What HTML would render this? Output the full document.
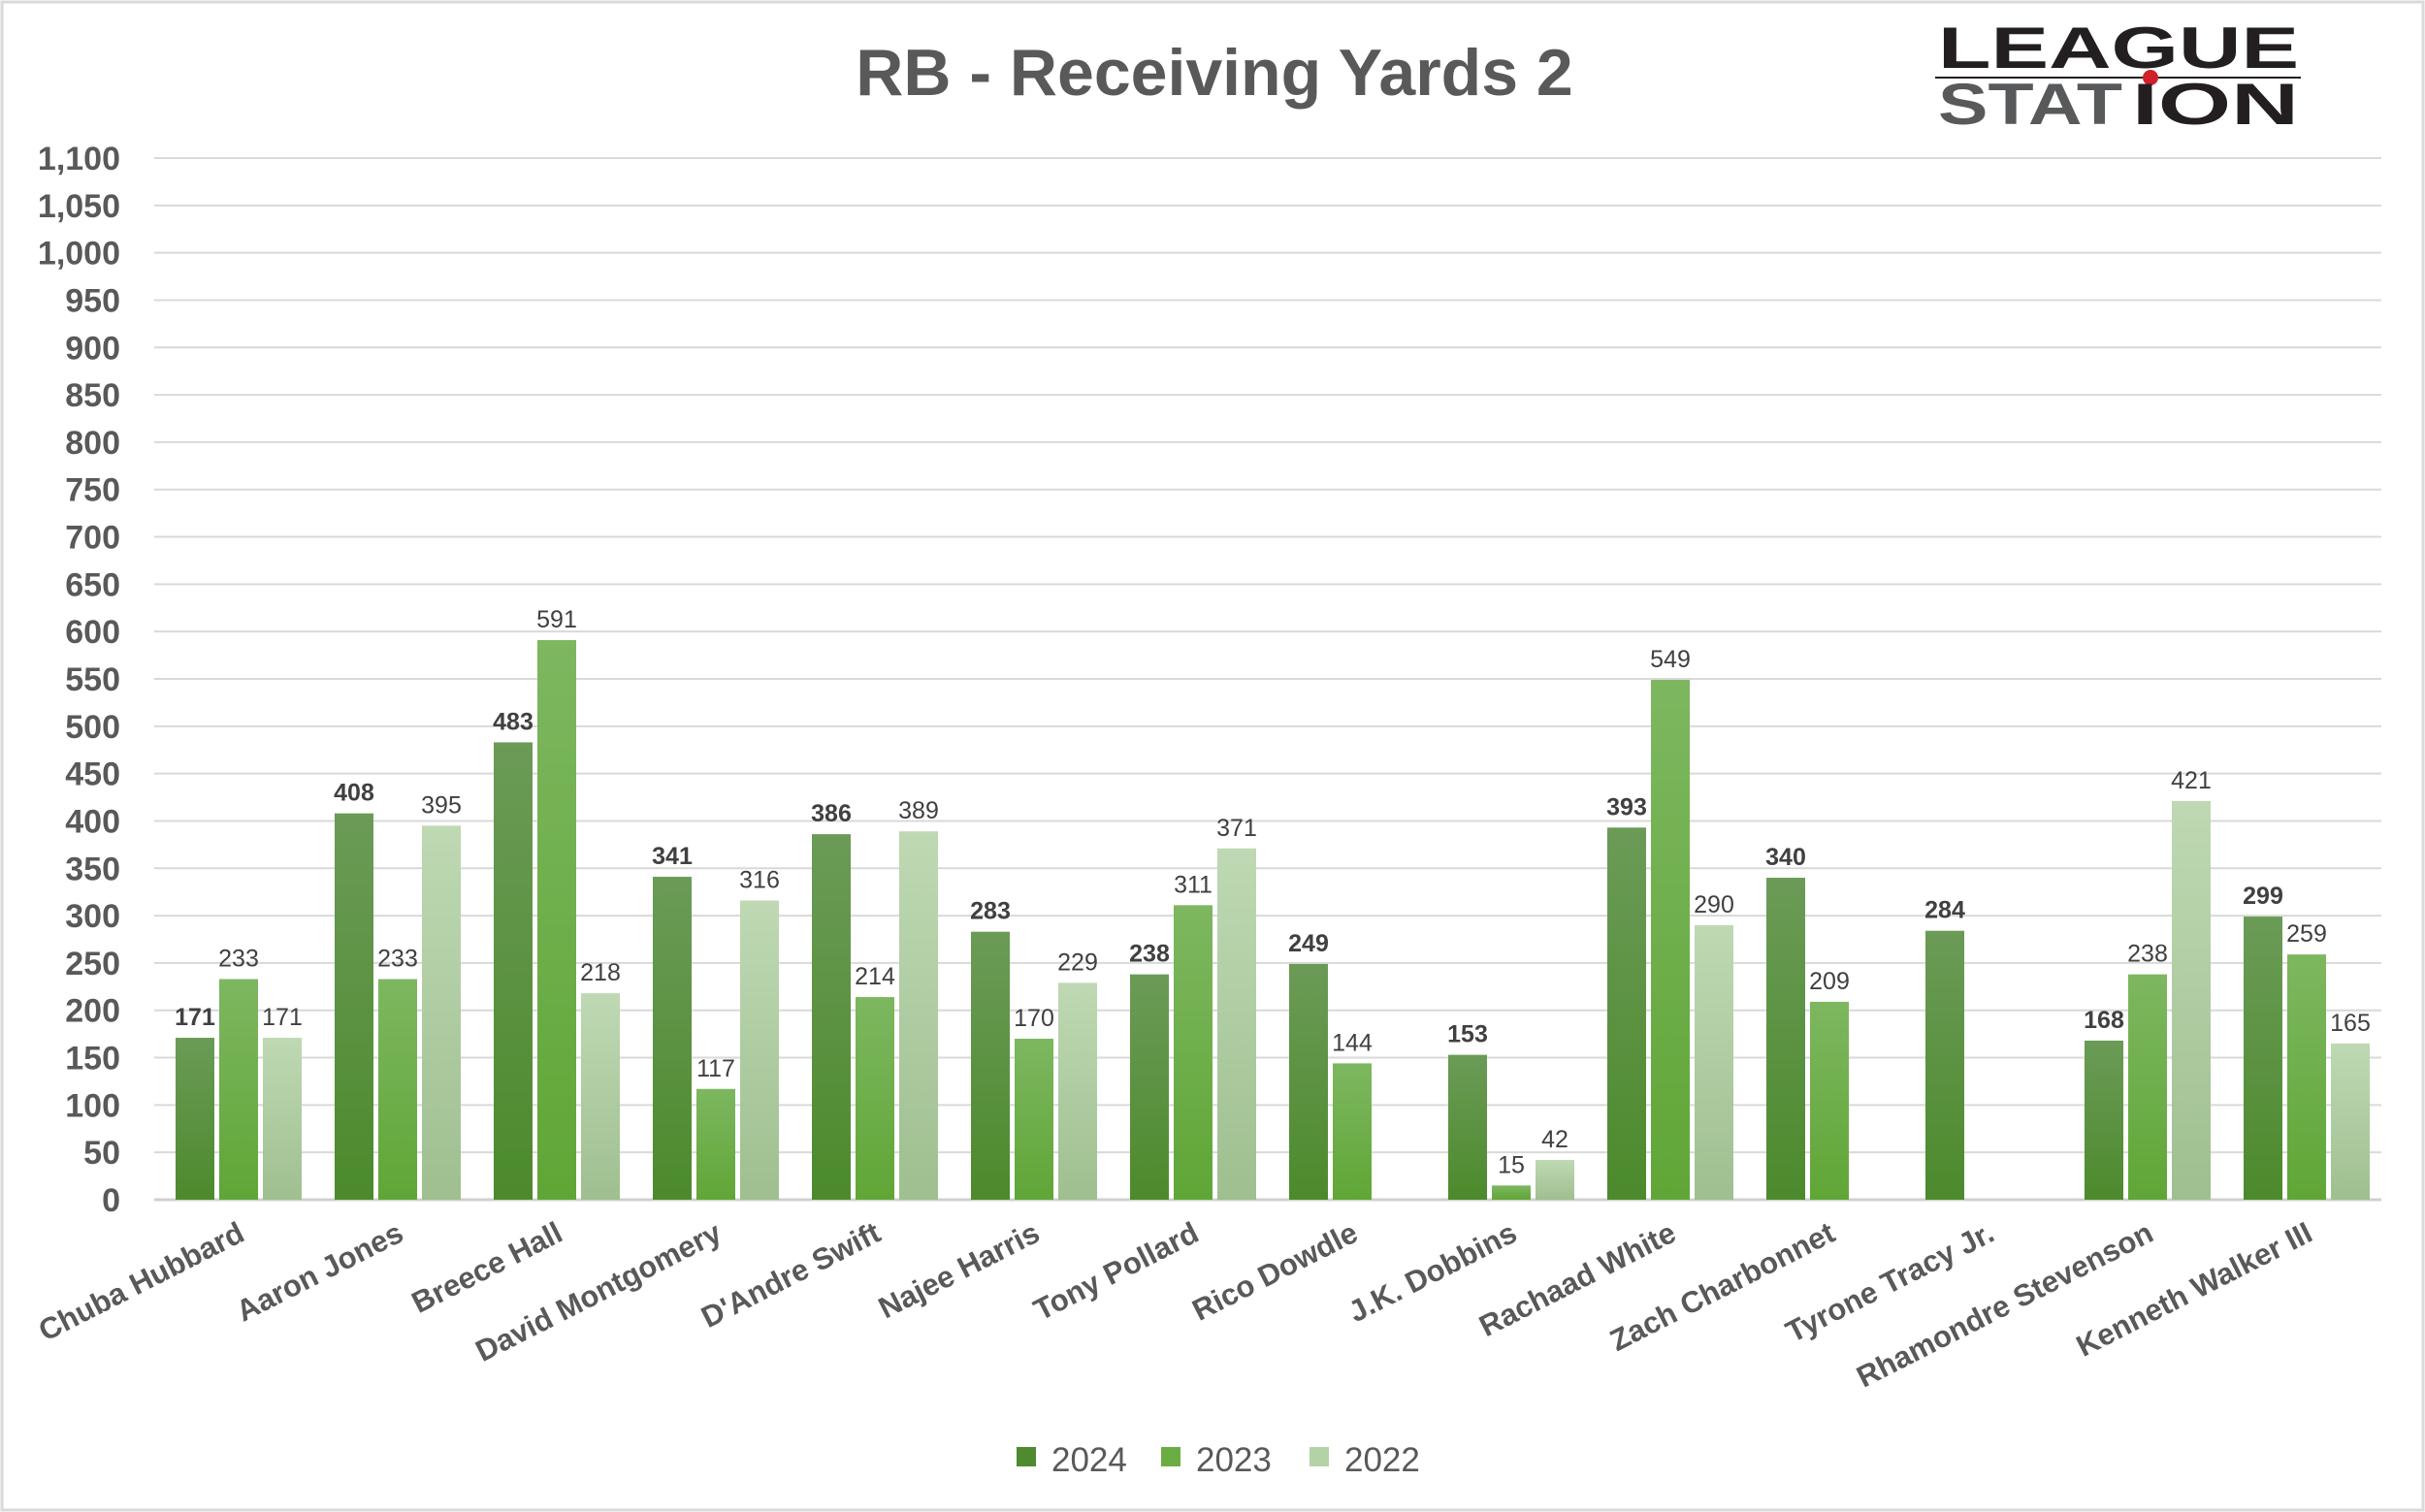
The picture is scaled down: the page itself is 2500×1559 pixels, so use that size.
<!DOCTYPE html>
<html><head><meta charset="utf-8"><style>
html,body{margin:0;padding:0;background:#fff;}
svg{display:block;font-family:"Liberation Sans",Calibri,sans-serif;}
</style></head><body>
<svg id="chart" width="2500" height="1559" viewBox="0 0 2500 1559" xmlns="http://www.w3.org/2000/svg">
<defs>
<linearGradient id="g24" x1="0" y1="0" x2="0" y2="1"><stop offset="0" stop-color="#6b9b57"/><stop offset="1" stop-color="#4c8a2c"/></linearGradient>
<linearGradient id="g23" x1="0" y1="0" x2="0" y2="1"><stop offset="0" stop-color="#7db760"/><stop offset="1" stop-color="#60a636"/></linearGradient>
<linearGradient id="g22" x1="0" y1="0" x2="0" y2="1"><stop offset="0" stop-color="#bed9b3"/><stop offset="1" stop-color="#9fbf90"/></linearGradient>
</defs>
<rect x="2" y="2" width="2496" height="1555" fill="#fff" stroke="#d9d9d9" stroke-width="3"/>
<text x="1252" y="98" text-anchor="middle" font-size="68" font-weight="bold" fill="#595959">RB - Receiving Yards 2</text>
<g>
<text x="1998" y="70" font-size="60" font-weight="bold" fill="#231f20" textLength="372" lengthAdjust="spacingAndGlyphs">LEAGUE</text>
<line x1="1995" y1="80" x2="2372" y2="80" stroke="#231f20" stroke-width="2"/>
<circle cx="2217" cy="80" r="8" fill="#d0202a"/>
<text x="1998" y="128" font-size="60" font-weight="bold" fill="#58595b" textLength="190" lengthAdjust="spacingAndGlyphs">STAT</text>
<text x="2198" y="128" font-size="60" font-weight="bold" fill="#231f20" textLength="172" lengthAdjust="spacingAndGlyphs">ION</text>
</g>
<g id="grid"></g><g id="bars"></g><g id="labels"></g><g id="xlabels"></g>
<g>
<rect x="1048" y="1492" width="20" height="20" fill="#4f8a30"/>
<text x="1084" y="1517" font-size="35" fill="#595959">2024</text>
<rect x="1197" y="1492" width="20" height="20" fill="#6aae43"/>
<text x="1233" y="1517" font-size="35" fill="#595959">2023</text>
<rect x="1350" y="1492" width="20" height="20" fill="#b3d2a6"/>
<text x="1386" y="1517" font-size="35" fill="#595959">2022</text>
</g>
</svg>
<script>
const categories=["Chuba Hubbard","Aaron Jones","Breece Hall","David Montgomery","D'Andre Swift","Najee Harris","Tony Pollard","Rico Dowdle","J.K. Dobbins","Rachaad White","Zach Charbonnet","Tyrone Tracy Jr.","Rhamondre Stevenson","Kenneth Walker III"];
const values2024=[171,408,483,341,386,283,238,249,153,393,340,284,168,299];
const values2023=[233,233,591,117,214,170,311,144,15,549,209,null,238,259];
const values2022=[171,395,218,316,389,229,371,null,42,290,null,null,421,165];
const yTicks=[0,50,100,150,200,250,300,350,400,450,500,550,600,650,700,750,800,850,900,950,1000,1050,1100];

const NS="http://www.w3.org/2000/svg";
const y0=1237,y1=163,yMax=1100,plotL=159,plotR=2455;
const yScale=v=>y0-(v/yMax)*(y0-y1);
const x0=246,step=164;
const xScale=i=>x0+i*step;
const barW=40,stride=45;
function mk(tag,attrs,parent){const e=document.createElementNS(NS,tag);for(const k in attrs)e.setAttribute(k,attrs[k]);parent.appendChild(e);return e;}
const grid=document.getElementById('grid');
yTicks.forEach(t=>{
  const l=mk('line',{x1:plotL,x2:plotR,y1:yScale(t),y2:yScale(t),stroke:t===0?'#d0d0d0':'#d9d9d9','stroke-width':t===0?3:2},grid);
  
  
  const tx=mk('text',{x:124,y:yScale(t)+12,'text-anchor':'end','font-size':34,'font-weight':'bold',fill:'#595959'},grid);
  tx.textContent=t.toLocaleString('en-US');
  
  
});
const series=[[values2024,'url(#g24)','bold','#404040','2024'],[values2023,'url(#g23)','normal','#404040','2023'],[values2022,'url(#g22)','normal','#404040','2022']];
const bars=document.getElementById('bars'),labels=document.getElementById('labels'),xl=document.getElementById('xlabels');
categories.forEach((c,i)=>{
  series.forEach((s,j)=>{
    const v=s[0][i]; if(v==null) return;
    const cx=xScale(i)+(j-1)*stride;
    const r=mk('rect',{x:cx-barW/2,y:yScale(v),width:barW,height:y0-yScale(v),fill:s[1]},bars);
    
    
    const t=mk('text',{x:cx,y:yScale(v)-13,'text-anchor':'middle','font-size':25,'font-weight':s[2],fill:s[3]},labels);
    t.textContent=v;
    
    
  });
  const lx=xScale(i)+8,ly=1278;
  const t=mk('text',{x:lx,y:ly,'text-anchor':'end','font-size':31,'font-weight':'bold',fill:'#595959',transform:`rotate(-27 ${lx} ${ly})`},xl);
  t.textContent=c;
  
  
});
</script>
</body></html>
